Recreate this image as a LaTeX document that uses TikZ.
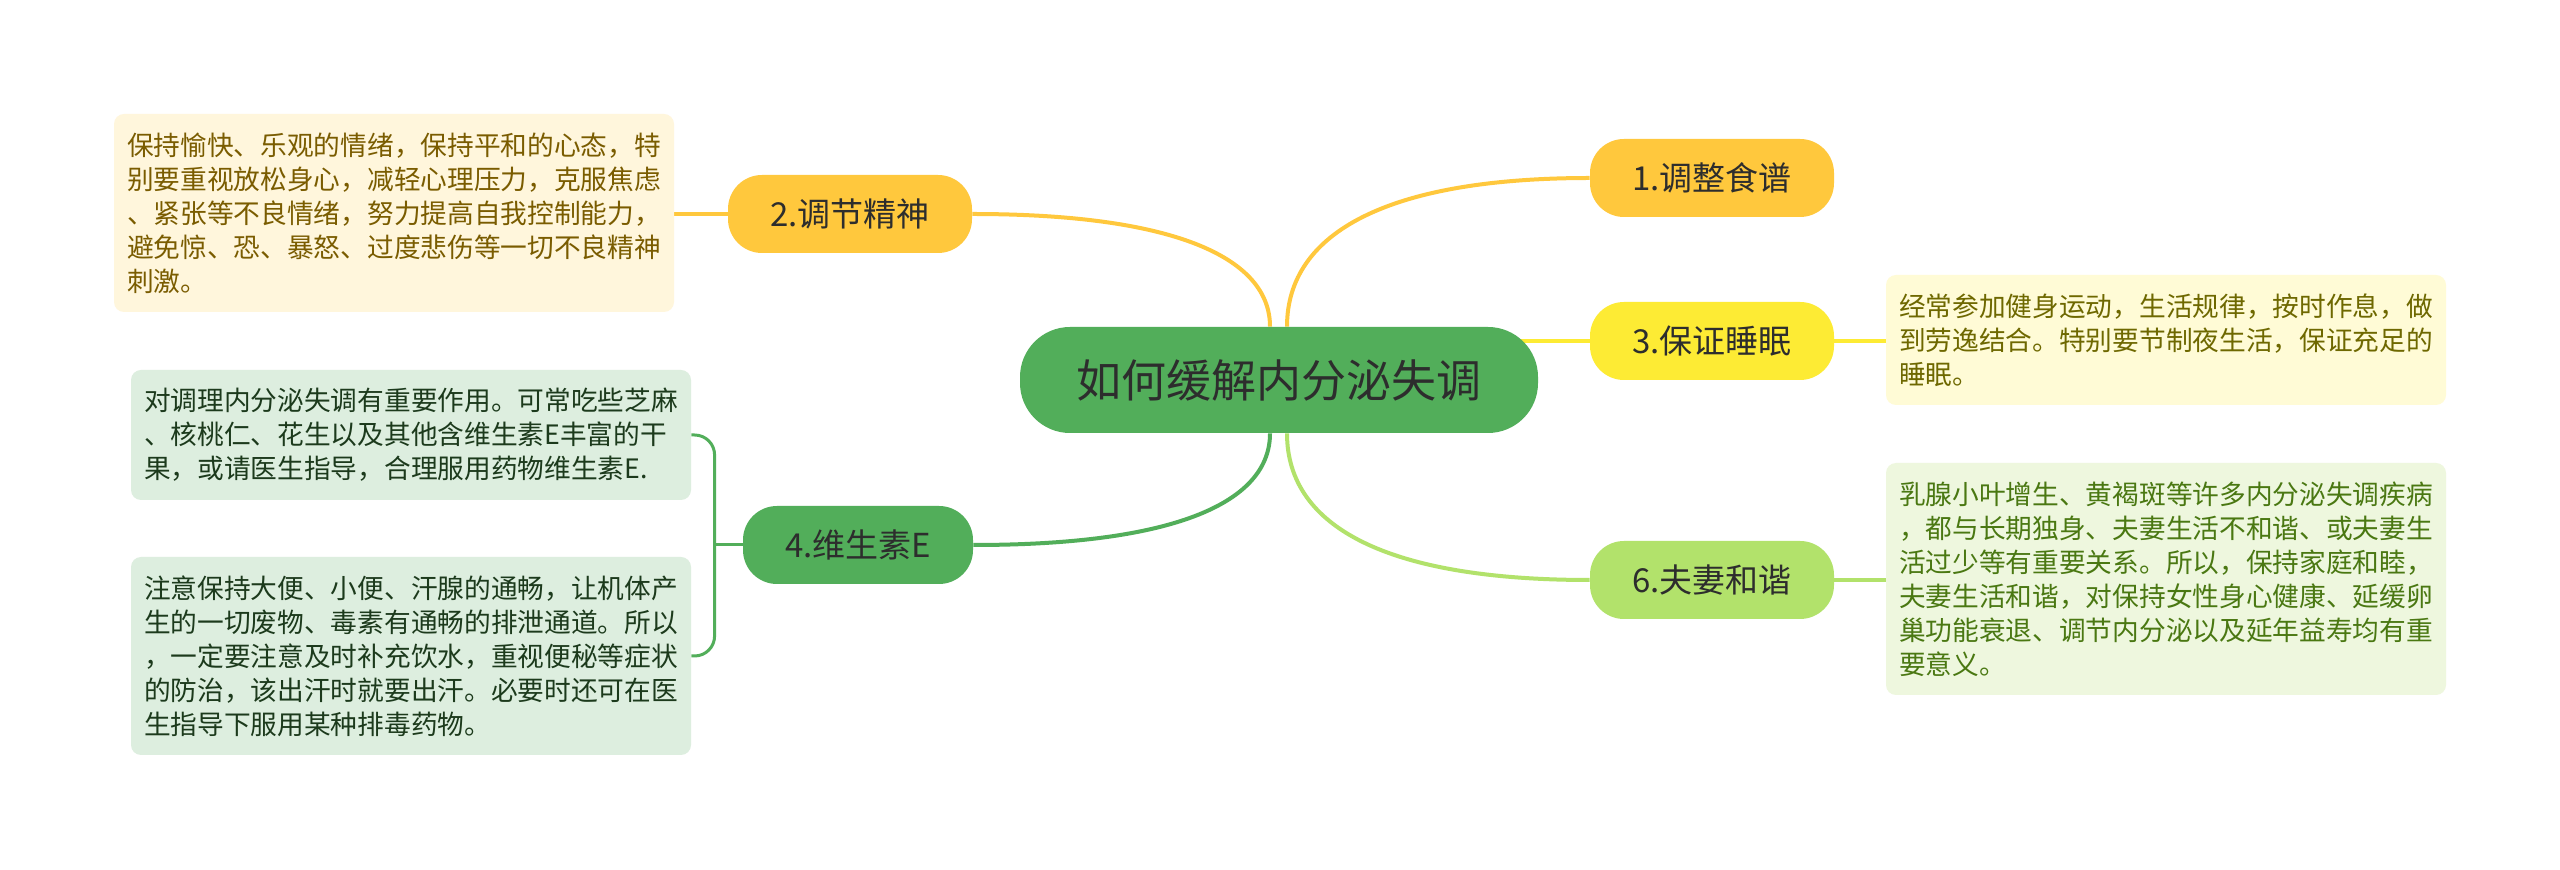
\documentclass[tikz,border=0pt]{standalone}
\usepackage{fontspec}
\newfontfamily\cjk{Noto Sans CJK SC}
\usetikzlibrary{calc,backgrounds}
\definecolor{rootgreen}{RGB}{82,174,90}
\definecolor{orangeY}{RGB}{255,200,61}
\definecolor{yellowY}{RGB}{253,235,52}
\definecolor{lightG}{RGB}{178,226,107}
\definecolor{darktext}{RGB}{45,45,45}
\definecolor{fillB2}{RGB}{255,246,220}
\definecolor{textB2}{RGB}{122,92,0}
\definecolor{fillB3}{RGB}{255,251,214}
\definecolor{textB3}{RGB}{110,104,0}
\definecolor{fillB6}{RGB}{238,247,222}
\definecolor{textB6}{RGB}{74,120,18}
\definecolor{fillB4}{RGB}{221,238,223}
\definecolor{textB4}{RGB}{28,58,28}
\begin{document}
\begin{tikzpicture}[x=0.5pt,y=-0.5pt,
  rootnode/.style={rounded corners=25pt, fill=rootgreen, minimum width=259pt, minimum height=53pt, inner sep=0pt, text=darktext, font=\cjk\fontsize{22.5pt}{27pt}\selectfont},
  topic/.style={rounded corners=17pt, minimum width=122pt, minimum height=39pt, inner sep=0pt, text=darktext, font=\cjk\fontsize{16.5pt}{20pt}\selectfont},
  note/.style={rounded corners=5pt, text width=267pt, inner xsep=6.5pt, inner ysep=0pt, align=left, font=\cjk\fontsize{13.35pt}{17pt}\selectfont},
  link/.style={line width=2pt}
]
\useasboundingbox (0,0) rectangle (2560,870);

% central node
\node[rootnode] (root) at (1279,380) {如何缓解内分泌失调};

% topics
\node[topic, fill=orangeY] (n1) at (1712,178) {1.调整食谱};
\node[topic, fill=orangeY] (n2) at (850,214) {2.调节精神};
\node[topic, fill=yellowY] (n3) at (1712,341) {3.保证睡眠};
\node[topic, fill=rootgreen, minimum width=115pt] (n4) at (858,545) {4.维生素E};
\node[topic, fill=lightG] (n6) at (1712,580) {6.夫妻和谐};

% notes
\node[note, fill=fillB2, text=textB2, minimum height=99pt] (b2) at (394,213) {保持愉快、乐观的情绪，保持平和的心态，特\\别要重视放松身心，减轻心理压力，克服焦虑\\、紧张等不良情绪，努力提高自我控制能力，\\避免惊、恐、暴怒、过度悲伤等一切不良精神\\刺激。};
\node[note, fill=fillB3, text=textB3, minimum height=65pt] (b3) at (2166,340) {经常参加健身运动，生活规律，按时作息，做\\到劳逸结合。特别要节制夜生活，保证充足的\\睡眠。};
\node[note, fill=fillB6, text=textB6, minimum height=116pt] (b6) at (2166,579) {乳腺小叶增生、黄褐斑等许多内分泌失调疾病\\，都与长期独身、夫妻生活不和谐、或夫妻生\\活过少等有重要关系。所以，保持家庭和睦，\\夫妻生活和谐，对保持女性身心健康、延缓卵\\巢功能衰退、调节内分泌以及延年益寿均有重\\要意义。};
\node[note, fill=fillB4, text=textB4, minimum height=65pt] (b4a) at (411,435) {对调理内分泌失调有重要作用。可常吃些芝麻\\、核桃仁、花生以及其他含维生素E丰富的干\\果，或请医生指导，合理服用药物维生素E.};
\node[note, fill=fillB4, text=textB4, minimum height=99pt] (b4b) at (411,656) {注意保持大便、小便、汗腺的通畅，让机体产\\生的一切废物、毒素有通畅的排泄通道。所以\\，一定要注意及时补充饮水，重视便秘等症状\\的防治，该出汗时就要出汗。必要时还可在医\\生指导下服用某种排毒药物。};

% anchor coordinates on the central node
\coordinate (rtL) at ([xshift=-4.5pt]root.north);
\coordinate (rtR) at ([xshift=4pt]root.north);
\coordinate (rbL) at ([xshift=-4.5pt]root.south);
\coordinate (rbR) at ([xshift=4pt]root.south);
\coordinate (brk) at ($(n4.west)+(-28,0)$);

\begin{scope}[on background layer]
  \fill[white] (0,0) rectangle (2560,870);
  % main branches
  \draw[link, orangeY] (rtR) .. controls ($(rtR)+(0,-95)$) and ($(n1.west)+(-200,0)$) .. (n1.west);
  \draw[link, orangeY] (rtL) .. controls ($(rtL)+(0,-67)$) and ($(n2.east)+(207,0)$) .. (n2.east);
  \draw[link, yellowY] (n3.west -| root.center) -- (n3.west);
  \draw[link, rootgreen] (rbL) .. controls ($(rbL)+(0,67)$) and ($(n4.east)+(207,0)$) .. (n4.east);
  \draw[link, lightG] (rbR) .. controls ($(rbR)+(0,95)$) and ($(n6.west)+(-200,0)$) .. (n6.west);
  % topic to notes
  \draw[link, orangeY] (n2.west) -- (n2.west -| b2.east);
  \draw[link, yellowY] (n3.east) -- (n3.east -| b3.west);
  \draw[link, lightG] (n6.east) -- (n6.east -| b6.west);
  \draw[line width=1.5pt, rootgreen] (n4.west) -- (brk);
  \draw[line width=1.5pt, rootgreen, rounded corners=10pt] (b4a.east) -| (brk) |- (b4b.east);
\end{scope}
\end{tikzpicture}
\end{document}
